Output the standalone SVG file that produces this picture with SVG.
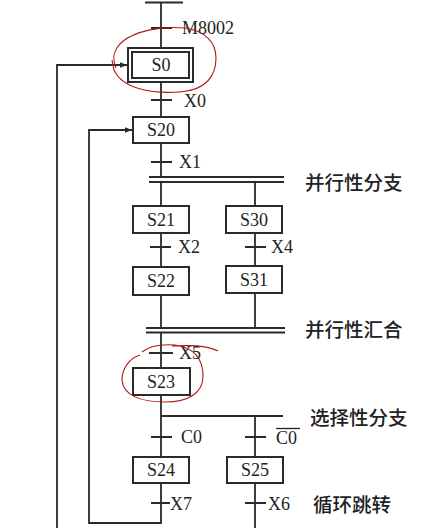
<svg xmlns="http://www.w3.org/2000/svg" width="437" height="528" viewBox="0 0 437 528">
<style>
.ln{stroke:#2a2a2a;stroke-width:1.8;fill:none}
.tk{stroke:#2a2a2a;stroke-width:2;fill:none}
.bx{stroke:#2a2a2a;stroke-width:2;fill:#fff}
.t{font-family:"Liberation Serif","Times New Roman",serif;font-size:18px;fill:#222}
.c{text-anchor:middle}
.cn{font-family:"Noto Sans CJK SC","Noto Sans",sans-serif;font-size:19.5px;fill:#222;font-weight:500}
.red{stroke:#b01818;stroke-width:1.1;fill:none}
</style>
<defs>
<marker id="ar" viewBox="0 0 10 10" refX="10" refY="5" markerWidth="9" markerHeight="7" markerUnits="userSpaceOnUse" orient="auto">
<path d="M0,1 L10,5 L0,9 z" fill="#2a2a2a"/>
</marker>
</defs>
<rect width="437" height="528" fill="#fff"/>
<g id="connectors">
<line class="ln" x1="145" y1="2.5" x2="183" y2="2.5"/>
<line class="ln" x1="161" y1="2" x2="161" y2="48"/>
<line class="ln" x1="161" y1="82" x2="161" y2="117"/>
<line class="ln" x1="161" y1="143" x2="161" y2="177"/>
<line class="ln" x1="149" y1="177" x2="284" y2="177"/>
<line class="ln" x1="149" y1="182" x2="284" y2="182"/>
<line class="ln" x1="161" y1="182" x2="161" y2="206"/>
<line class="ln" x1="255" y1="182" x2="255" y2="206"/>
<line class="ln" x1="161" y1="233" x2="161" y2="267"/>
<line class="ln" x1="255" y1="233" x2="255" y2="266"/>
<line class="ln" x1="161" y1="295" x2="161" y2="328"/>
<line class="ln" x1="255" y1="293" x2="255" y2="328"/>
<line class="ln" x1="146" y1="328" x2="285" y2="328"/>
<line class="ln" x1="146" y1="332.5" x2="285" y2="332.5"/>
<line class="ln" x1="161" y1="332" x2="161" y2="368"/>
<line class="ln" x1="161" y1="395" x2="161" y2="457"/>
<line class="ln" x1="161" y1="416" x2="283" y2="416"/>
<line class="ln" x1="255" y1="416" x2="255" y2="457"/>
<line class="ln" x1="255" y1="483" x2="255" y2="528"/>
<polyline class="ln" points="161,483 161,523 89,523 89,130 132,130" marker-end="url(#ar)"/>
<polyline class="ln" points="57,528 57,65 127,65" marker-end="url(#ar)"/>
<line class="tk" x1="151" y1="28" x2="172" y2="28"/>
<line class="tk" x1="151" y1="100" x2="172" y2="100"/>
<line class="tk" x1="151" y1="162" x2="172" y2="162"/>
<line class="tk" x1="150" y1="247" x2="171" y2="247"/>
<line class="tk" x1="245" y1="247" x2="266" y2="247"/>
<line class="tk" x1="149" y1="353" x2="173" y2="353"/>
<line class="tk" x1="151" y1="437" x2="172" y2="437"/>
<line class="tk" x1="245" y1="437" x2="266" y2="437"/>
<line class="tk" x1="151" y1="503" x2="170" y2="503"/>
<line class="tk" x1="245" y1="503" x2="266" y2="503"/>
</g>
<g id="S0">
<rect class="bx" x="128" y="48" width="65" height="34"/>
<rect class="bx" x="132" y="52" width="57" height="26"/>
<text class="t c" x="161" y="71">S0</text>
</g>
<g id="S20"><rect class="bx" x="133" y="117" width="56" height="26"/><text class="t c" x="161" y="136">S20</text></g>
<g id="S21"><rect class="bx" x="133" y="206" width="56" height="27"/><text class="t c" x="161" y="226">S21</text></g>
<g id="S30"><rect class="bx" x="226" y="206" width="56" height="27"/><text class="t c" x="254" y="226">S30</text></g>
<g id="S22"><rect class="bx" x="133" y="267" width="56" height="28"/><text class="t c" x="161" y="287">S22</text></g>
<g id="S31"><rect class="bx" x="226" y="266" width="56" height="27"/><text class="t c" x="254" y="286">S31</text></g>
<g id="S23"><rect class="bx" x="133" y="368" width="57" height="27"/><text class="t c" x="161" y="388">S23</text></g>
<g id="S24"><rect class="bx" x="133" y="457" width="56" height="26"/><text class="t c" x="161" y="476">S24</text></g>
<g id="S25"><rect class="bx" x="227" y="457" width="56" height="26"/><text class="t c" x="255" y="476">S25</text></g>
<g id="labels">
<text class="t" x="182" y="34">M8002</text>
<text class="t" x="184" y="107">X0</text>
<text class="t" x="179" y="168">X1</text>
<text class="t" x="178" y="253">X2</text>
<text class="t" x="271" y="253">X4</text>
<text class="t" x="179" y="359">X5</text>
<text class="t" x="181" y="443">C0</text>
<text class="t" x="276" y="444">C0</text>
<line x1="276" y1="428.5" x2="300" y2="428.5" stroke="#222" stroke-width="1.3"/>
<text class="t" x="170" y="510">X7</text>
<text class="t" x="268" y="510">X6</text>
<text class="cn" x="305" y="190">并行性分支</text>
<text class="cn" x="305" y="337">并行性汇合</text>
<text class="cn" x="310" y="425">选择性分支</text>
<text class="cn" x="313" y="512">循环跳转</text>
</g>
<g id="annotations">
<path class="red" d="M116,68 C112,58 113,50 122,42 C135,31 160,26 185,28 C205,31 216,42 216,58 C216,76 206,90 180,92 C150,94 122,88 114,70 L112,60"/>
<path class="red" d="M140,355 C130,358 122,368 122,380 C123,395 140,402 165,402 C190,402 203,392 203,376 C203,360 195,348 175,345 C160,344 148,347 142,352 M172,346 C190,345 205,345 218,351"/>
</g>
</svg>
